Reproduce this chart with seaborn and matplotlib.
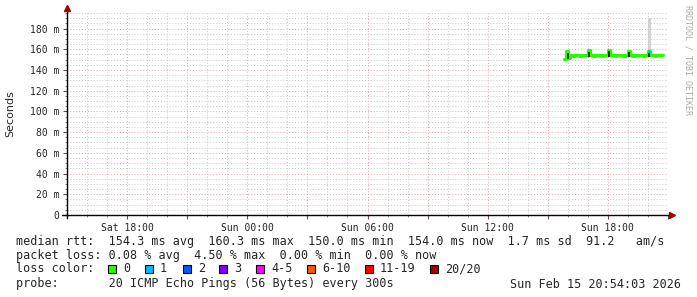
import numpy as np
import matplotlib
matplotlib.use('Agg')
import matplotlib.pyplot as plt
import matplotlib.dates as mdates
from matplotlib.ticker import MultipleLocator, FuncFormatter
from matplotlib.patches import Rectangle
import pandas as pd
import seaborn as sns

# probe samples every 300s (median rtt in ms)
sample_times = pd.date_range('2026-02-15 15:50', periods=60, freq='5min')
median_rtt = [150.5, 158.0, 151.5, 154.0, 154.1, 153.9, 154.0, 154.2, 154.0, 153.9,
              154.0, 154.1, 154.0, 154.0, 159.0, 154.1, 154.0, 153.9, 154.0, 154.2,
              154.0, 154.0, 153.9, 154.1, 154.0, 154.0, 159.5, 154.0, 154.1, 154.0,
              153.9, 154.0, 154.0, 154.2, 154.0, 153.9, 154.0, 154.1, 158.5, 154.0,
              154.0, 153.9, 154.1, 154.0, 154.0, 154.2, 154.0, 153.9, 154.0, 154.0,
              158.0, 154.0, 154.1, 154.0, 153.9, 154.0, 154.0, 154.1, 154.0, 154.0]
# smoke (ping spread) where it shows above the median line
smoke_idx = [1, 14, 26, 38, 50]
smoke_lo = [151.0, 152.5, 152.5, 152.5, 152.5]
smoke_hi = [158.5, 160.0, 160.3, 159.5, 159.5]
outlier_idx = [50]
outlier_lo = [156.0]
outlier_hi = [190.0]
loss_idx = [50]   # one lost ping -> colour "1"

loss_labels = ['0', '1', '2', '3', '4-5', '6-10', '11-19', '20/20']
loss_colors = ['#26ff00', '#00b8ff', '#0059ff', '#7e00ff', '#ff00ff', '#ff5500', '#ff0000', '#a10000']

stats_rtt = 'median rtt:  154.3 ms avg  160.3 ms max  150.0 ms min  154.0 ms now  1.7 ms sd  91.2   am/s'
stats_loss = 'packet loss: 0.08 % avg  4.50 % max  0.00 % min  0.00 % now'
probe_txt = 'probe:       20 ICMP Echo Pings (56 Bytes) every 300s'
stamp_txt = 'Sun Feb 15 20:54:03 2026'

sns.set_theme(style='white')
plt.rcParams['font.family'] = ['DejaVu Sans Mono']

W, H = 697, 297
fig = plt.figure(figsize=(W / 100, H / 100), dpi=100)
fig.patch.set_facecolor('white')
ax = fig.add_axes([67 / W, (H - 215) / H, 601 / W, 202 / H])
ax.set_facecolor('white')

df = pd.DataFrame({'time': sample_times, 'median': median_rtt})
step = 5 / 1440.0
t_num = mdates.date2num(sample_times.to_pydatetime())

# light smoke (single slow ping)
ax.bar(t_num[outlier_idx], np.array(outlier_hi) - np.array(outlier_lo), bottom=outlier_lo,
       width=step * 1.6, align='edge', color='#d2d2d2', linewidth=0, zorder=2)

sns.lineplot(data=df, x='time', y='median', ax=ax, color=loss_colors[0], lw=2.3,
             drawstyle='steps-post', estimator=None, zorder=4)
for i in loss_idx:
    ax.hlines(median_rtt[i], t_num[i], t_num[i] + step, color=loss_colors[1], lw=2.3, zorder=5)

# dark smoke, drawn over the median line but below its top
med = np.array(median_rtt)
s_lo = np.array(smoke_lo)
s_top = np.minimum(np.array(smoke_hi), med[smoke_idx] - 1.3)
ax.bar(t_num[smoke_idx] + step * 0.3, s_top - s_lo, bottom=s_lo,
       width=step * 1.1, align='edge', color='#2e2e2e', linewidth=0, zorder=6)

ax.set_xlim(pd.Timestamp('2026-02-14 15:00'), pd.Timestamp('2026-02-15 21:00'))
ax.set_ylim(0, 195)
ax.set_xlabel('')
ax.set_ylabel('')

ax.yaxis.set_major_locator(MultipleLocator(20))
ax.yaxis.set_minor_locator(MultipleLocator(5))
ax.yaxis.set_major_formatter(FuncFormatter(lambda v, p: '0' if v == 0 else '%d m' % v))
ax.xaxis.set_major_locator(mdates.HourLocator(byhour=range(0, 24, 3)))
ax.xaxis.set_minor_locator(mdates.HourLocator())
ax.xaxis.set_major_formatter(FuncFormatter(
    lambda v, p: mdates.num2date(v).strftime('%a %H:%M') if mdates.num2date(v).hour % 6 == 0 else ''))

ax.grid(which='minor', color='#c8c8c8', linestyle=(0, (1, 2)), lw=0.7, zorder=0)
ax.grid(which='major', color='#e0a8a8', linestyle=(0, (1, 2)), lw=0.7, zorder=1)
ax.tick_params(axis='both', which='major', length=3, width=0.8, color='#555555',
               labelsize=7, pad=2.5, bottom=True, left=True)
ax.tick_params(axis='both', which='minor', length=1.5, width=0.6, color='#777777',
               bottom=True, left=True)
for s in ax.spines.values():
    s.set_visible(False)

# axes with arrows
ax.plot([0, 0], [-0.015, 1.02], transform=ax.transAxes, color='black', lw=1, clip_on=False, zorder=7)
ax.plot([-0.008, 1.003], [0, 0], transform=ax.transAxes, color='black', lw=1, clip_on=False, zorder=7)
ax.plot(0, 1.025, marker='^', color='#a00000', ms=4, transform=ax.transAxes, clip_on=False, zorder=8)
ax.plot(1.006, 0, marker='>', color='#a00000', ms=4, transform=ax.transAxes, clip_on=False, zorder=8)

fig.text(10 / W, 1 - 114 / H, 'Seconds', rotation=90, ha='center', va='center',
         fontsize=8, family=['DejaVu Sans'])
fig.text(688 / W, 1 - 5 / H, 'RRDTOOL / TOBI OETIKER', rotation=270, ha='center', va='top',
         fontsize=6, color='#aaaaaa')

fs = 8.5
fig.text(16 / W, 1 - 241 / H, stats_rtt, ha='left', va='center', fontsize=fs)
fig.text(16 / W, 1 - 255 / H, stats_loss, ha='left', va='center', fontsize=fs)
fig.text(16 / W, 1 - 269 / H, 'loss color:', ha='left', va='center', fontsize=fs)
fig.text(16 / W, 1 - 284 / H, probe_txt, ha='left', va='center', fontsize=fs)
fig.text(681 / W, 1 - 284 / H, stamp_txt, ha='right', va='center', fontsize=fs)

box_x = [108, 145, 183, 219, 256, 307, 365, 430]
for bx, lab, col in zip(box_x, loss_labels, loss_colors):
    fig.add_artist(Rectangle((bx / W, 1 - 273 / H), 8 / W, 8 / H, transform=fig.transFigure,
                             facecolor=col, edgecolor='black', lw=0.8))
    fig.text((bx + 15) / W, 1 - 269 / H, lab, ha='left', va='center', fontsize=fs)

fig.savefig('out.png', dpi=100)
